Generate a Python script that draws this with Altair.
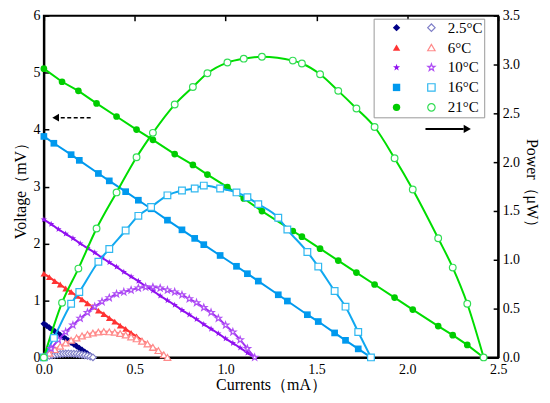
import altair as alt
import pandas as pd

temps = ["2.5°C", "6°C", "10°C", "16°C", "21°C"]
line_keys = ["L2.5", "L6", "L10", "L16", "L21"]

# 2.5 °C
i_25 = [0, 0.015, 0.03, 0.045, 0.06, 0.075, 0.09, 0.105, 0.12, 0.135, 0.15, 0.165, 0.18, 0.195, 0.21, 0.225, 0.24, 0.255, 0.27]
v_25 = [0.59, 0.557, 0.524, 0.49, 0.46, 0.43, 0.39, 0.36, 0.33, 0.295, 0.26, 0.23, 0.197, 0.164, 0.131, 0.098, 0.066, 0.033, 0.0]
p_25 = [0, 0.0084, 0.0157, 0.022, 0.0276, 0.032, 0.035, 0.038, 0.0396, 0.0398, 0.039, 0.038, 0.0355, 0.032, 0.0275, 0.022, 0.0158, 0.0084, 0]

# 6 °C
i_6 = [0, 0.03, 0.06, 0.09, 0.12, 0.15, 0.18, 0.21, 0.24, 0.27, 0.30, 0.33, 0.36, 0.39, 0.42, 0.45, 0.48, 0.51, 0.54, 0.57, 0.60, 0.63, 0.66, 0.68]
v_6 = [1.47, 1.41, 1.34, 1.28, 1.21, 1.15, 1.08, 1.02, 0.95, 0.89, 0.82, 0.76, 0.69, 0.63, 0.56, 0.50, 0.43, 0.37, 0.30, 0.24, 0.17, 0.11, 0.04, 0.0]
p_6 = [0, 0.042, 0.080, 0.115, 0.148, 0.176, 0.200, 0.220, 0.236, 0.250, 0.260, 0.265, 0.262, 0.257, 0.245, 0.230, 0.210, 0.190, 0.165, 0.138, 0.104, 0.070, 0.027, 0]

# 10 °C
i_10 = [0, 0.04, 0.08, 0.12, 0.16, 0.20, 0.24, 0.28, 0.32, 0.36, 0.40, 0.44, 0.48, 0.52, 0.56, 0.60, 0.64, 0.68, 0.72, 0.76, 0.80, 0.84, 0.88, 0.92, 0.96, 1.00, 1.04, 1.08, 1.12, 1.16]
v_10 = [2.42, 2.34, 2.25, 2.17, 2.09, 2.00, 1.92, 1.84, 1.75, 1.67, 1.59, 1.50, 1.42, 1.34, 1.25, 1.17, 1.08, 1.00, 0.92, 0.83, 0.75, 0.67, 0.58, 0.50, 0.42, 0.33, 0.25, 0.17, 0.08, 0.0]
p_10 = [0, 0.09, 0.18, 0.26, 0.33, 0.40, 0.46, 0.52, 0.57, 0.61, 0.65, 0.67, 0.69, 0.71, 0.72, 0.72, 0.71, 0.69, 0.67, 0.64, 0.60, 0.56, 0.51, 0.46, 0.40, 0.33, 0.26, 0.18, 0.09, 0]

# 16 °C
i_16 = [0, 0.055, 0.15, 0.195, 0.30, 0.36, 0.45, 0.52, 0.59, 0.68, 0.76, 0.83, 0.88, 0.97, 1.06, 1.12, 1.18, 1.29, 1.34, 1.45, 1.51, 1.60, 1.66, 1.73, 1.80]
v_16 = [3.88, 3.76, 3.56, 3.46, 3.23, 3.10, 2.91, 2.76, 2.61, 2.41, 2.24, 2.09, 1.98, 1.79, 1.60, 1.47, 1.34, 1.10, 0.99, 0.75, 0.63, 0.43, 0.30, 0.15, 0.0]
p_16 = [0, 0.20, 0.55, 0.67, 0.98, 1.11, 1.30, 1.45, 1.54, 1.66, 1.71, 1.73, 1.76, 1.73, 1.69, 1.64, 1.57, 1.43, 1.31, 1.08, 0.93, 0.68, 0.52, 0.26, 0]

# 21 °C
i_21 = [0, 0.10, 0.19, 0.29, 0.40, 0.51, 0.60, 0.72, 0.82, 0.90, 1.01, 1.10, 1.20, 1.37, 1.42, 1.52, 1.62, 1.72, 1.82, 1.93, 2.03, 2.17, 2.25, 2.33, 2.42]
v_21 = [5.07, 4.84, 4.68, 4.46, 4.23, 4.00, 3.82, 3.57, 3.38, 3.21, 2.99, 2.79, 2.57, 2.22, 2.12, 1.91, 1.70, 1.49, 1.28, 1.05, 0.84, 0.55, 0.39, 0.22, 0.0]
p_21 = [0, 0.56, 0.91, 1.32, 1.69, 2.05, 2.30, 2.59, 2.77, 2.91, 3.02, 3.06, 3.08, 3.04, 3.01, 2.90, 2.73, 2.55, 2.36, 2.04, 1.72, 1.22, 0.92, 0.55, 0]

x_ticks = [0, 0.5, 1.0, 1.5, 2.0, 2.5]
v_ticks = [0, 1, 2, 3, 4, 5, 6]
p_ticks = [0, 0.5, 1.0, 1.5, 2.0, 2.5, 3.0, 3.5]

fill_colors = ["#000088", "#FF3333", "#9010F0", "#0099EE", "#00CC00"]
open_colors = ["#8080C8", "#FF8A8A", "#B050F5", "#30B8F0", "#33DD55"]
vline_colors = ["#000088", "#FF3333", "#9010F0", "#0099EE", "#00DD00"]
pline_colors = ["#B8B8EE", "#FF8A8A", "#A030F0", "#10A8F0", "#00DD00"]
STAR = ("M0,-1L0.235,-0.324L0.951,-0.309L0.38,0.124L0.588,0.809L0,0.4"
        "L-0.588,0.809L-0.38,0.124L-0.951,-0.309L-0.235,-0.324Z")
shapes = ["diamond", "triangle-up", STAR, "square", "circle"]

rows = []
for t, s, I, V, P in zip(temps, line_keys, [i_25, i_6, i_10, i_16, i_21],
                         [v_25, v_6, v_10, v_16, v_21], [p_25, p_6, p_10, p_16, p_21]):
    for a, b, c in zip(I, V, P):
        rows.append({"T": t, "S": s, "I": a, "V": b, "P": c})
df = pd.DataFrame(rows)

arrow_v = pd.DataFrame({"I": [0.093], "I2": [0.27], "V": [4.21], "H": [0.065]})
arrow_p = pd.DataFrame({"I": [2.10], "I2": [2.31], "P": [2.34], "H": [2.33]})

FONT = "Liberation Serif"

xs = alt.Scale(domain=[0, 2.5], nice=False)
vs = alt.Scale(domain=[0, 6], nice=False)
ps = alt.Scale(domain=[0, 3.5], nice=False)

x_axis = alt.Axis(values=x_ticks, format=".1f", title="Currents（mA）",
                  ticks=False, grid=True, gridDash=[5, 3000], gridColor="black",
                  gridWidth=1.5, labelPadding=5, titlePadding=0)
v_axis = alt.Axis(values=v_ticks, format="d", title="Voltage（mV）", orient="left",
                  ticks=False, grid=True, gridDash=[5, 3000], gridColor="black",
                  gridWidth=1.5, labelPadding=4)
p_axis = alt.Axis(values=p_ticks, format=".1f", title="Power（μW）", orient="right",
                  ticks=False, grid=True, gridDash=[5, 3000], gridColor="black",
                  gridWidth=1.5, labelPadding=4)

X = alt.X("I:Q", scale=xs, axis=x_axis)

v_leg = alt.Legend(orient="none", legendX=331, legendY=3, title=None,
                   strokeColor="#999999", padding=1.5, labelFont=FONT,
                   labelFontSize=15, labelOffset=44, symbolOffset=14,
                   symbolSize=55, rowPadding=4, labelColor="black",
                   fillColor="white")
p_leg = alt.Legend(orient="none", legendX=380, legendY=3, title=None,
                   padding=1.5, labelExpr="''", labelFontSize=15,
                   symbolSize=55, rowPadding=4, symbolStrokeWidth=1.2)

base = alt.Chart(df)

v_lines = base.mark_line(strokeWidth=2).encode(
    x=X,
    y=alt.Y("V:Q", scale=vs, axis=v_axis),
    stroke=alt.Stroke("S:N", scale=alt.Scale(domain=line_keys, range=vline_colors), legend=None),
)
v_points = base.mark_point(filled=True, opacity=1, size=45).encode(
    x=X,
    y=alt.Y("V:Q", scale=vs, axis=v_axis),
    color=alt.Color("T:N", scale=alt.Scale(domain=temps, range=fill_colors), legend=v_leg),
    shape=alt.Shape("T:N", scale=alt.Scale(domain=temps, range=shapes), legend=v_leg),
)
v_arrow = alt.Chart(arrow_v).mark_rule(color="black", strokeWidth=1.5, strokeDash=[4, 2.5]).encode(
    x=X, x2="I2:Q", y=alt.Y("V:Q", scale=vs, axis=v_axis))
v_head = alt.Chart(arrow_v).mark_point(shape="triangle-left", filled=True, color="black",
                                       size=60, opacity=1).encode(
    x=alt.X("H:Q", scale=xs, axis=x_axis), y=alt.Y("V:Q", scale=vs, axis=v_axis))

volt = alt.layer(v_lines, v_points, v_arrow, v_head)

p_lines = base.mark_line(strokeWidth=2, interpolate="monotone").encode(
    x=X,
    y=alt.Y("P:Q", scale=ps, axis=p_axis),
    stroke=alt.Stroke("S:N", scale=alt.Scale(domain=line_keys, range=pline_colors), legend=None),
)
p_points = base.mark_point(filled=False, fill="white", strokeWidth=1.2, opacity=1, size=45).encode(
    x=X,
    y=alt.Y("P:Q", scale=ps, axis=p_axis),
    color=alt.Color("T:N", scale=alt.Scale(domain=temps, range=open_colors), legend=p_leg),
    shape=alt.Shape("T:N", scale=alt.Scale(domain=temps, range=shapes), legend=p_leg),
)
p_arrow = alt.Chart(arrow_p).mark_rule(color="black", strokeWidth=2).encode(
    x=X, x2="I2:Q", y=alt.Y("P:Q", scale=ps, axis=p_axis))
p_head = alt.Chart(arrow_p).mark_point(shape="triangle-right", filled=True, color="black",
                                       size=70, opacity=1).encode(
    x=alt.X("H:Q", scale=xs, axis=x_axis), y=alt.Y("P:Q", scale=ps, axis=p_axis))

power = alt.layer(p_lines, p_points, p_arrow, p_head)

chart = alt.layer(volt, power).resolve_scale(
    y="independent", color="independent", shape="independent",
    stroke="independent"
).properties(
    width=456, height=343,
    padding={"left": 5, "top": 0, "right": 2, "bottom": 2},
    background="white",
).configure_view(
    stroke="black", strokeWidth=2
).configure_axis(
    labelFont=FONT, titleFont=FONT, labelFontSize=14, titleFontSize=16,
    labelColor="black", titleColor="black", domainColor="black", domainWidth=2,
    titleFontWeight="normal", labelFlush=False,
)

chart.save("out.html", embed_options={"renderer": "svg", "actions": False})
